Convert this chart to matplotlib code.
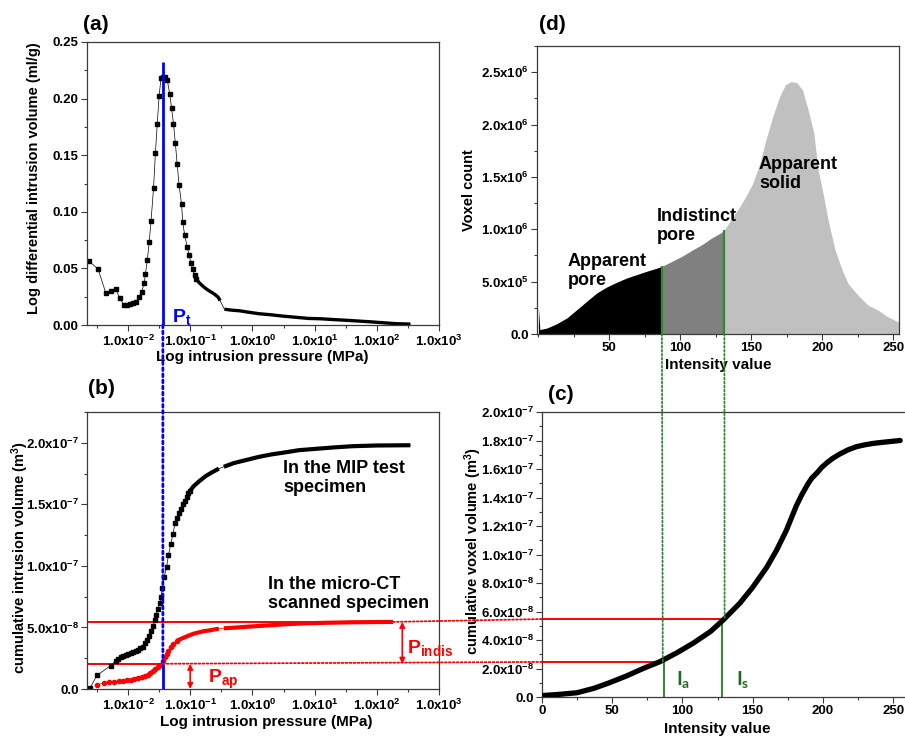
import numpy as np
import matplotlib
matplotlib.use('Agg')
import matplotlib.pyplot as plt
from matplotlib.patches import ConnectionPatch
from matplotlib.ticker import FixedLocator, FuncFormatter, MultipleLocator, NullFormatter

plt.rcParams['font.family'] = ['Liberation Sans', 'DejaVu Sans']
plt.rcParams['font.weight'] = 'bold'
plt.rcParams['axes.labelweight'] = 'bold'

# ---- (a) log differential intrusion (MIP) ----
diff_logp = [-2.63, -2.48, -2.36, -2.28, -2.20, -2.13, -2.07, -2.02, -1.97, -1.92, -1.87,
             -1.82, -1.78, -1.74, -1.72, -1.69, -1.66, -1.63, -1.59, -1.56, -1.53, -1.50,
             -1.47, -1.44, -1.40, -1.37, -1.33, -1.30, -1.27, -1.24, -1.21, -1.18, -1.14,
             -1.12, -1.09, -1.05, -1.02, -0.99, -0.96, -0.93, -0.90]
diff_vol = [0.0566, 0.0492, 0.0286, 0.0304, 0.0315, 0.0236, 0.0177, 0.0180, 0.0185, 0.0190,
            0.0206, 0.0250, 0.0295, 0.0369, 0.0451, 0.0575, 0.0731, 0.0923, 0.121, 0.152,
            0.178, 0.2025, 0.218, 0.2195, 0.219, 0.2167, 0.204, 0.1916, 0.178, 0.161, 0.142,
            0.124, 0.107, 0.0908, 0.0796, 0.0693, 0.0619, 0.0551, 0.0492, 0.0442, 0.0404]
diff_logp_tail = [-0.90, -0.85, -0.80, -0.75, -0.70, -0.65, -0.60, -0.55, -0.52, np.nan,
                  -0.45, -0.35, -0.20, -0.05, 0.10, 0.30, 0.50, 0.70, 0.90, 1.10, 1.30,
                  1.50, 1.70, 1.90, 2.10, 2.30, 2.54]
diff_vol_tail = [0.0404, 0.0370, 0.0345, 0.0322, 0.0303, 0.0287, 0.0268, 0.0245, 0.0215, np.nan,
                 0.0140, 0.0132, 0.0125, 0.0112, 0.0100, 0.0090, 0.0078, 0.0068, 0.0058,
                 0.0055, 0.0048, 0.0042, 0.0035, 0.0028, 0.0020, 0.0012, 0.0008]

# ---- (b) cumulative intrusion volume (units of 1e-8 m3) ----
mip_logp = [-2.61, -2.50, -2.28, -2.20, -2.16, -2.12, -2.08, -2.04, -2.00, -1.96, -1.92,
            -1.88, -1.84, -1.80, -1.76, -1.72, -1.69, -1.66, -1.63, -1.60, -1.57, -1.55,
            -1.52, -1.49, -1.47, -1.45, -1.42, -1.38, -1.35, -1.31, -1.28, -1.24, -1.21,
            -1.18, -1.15, -1.12, -1.09, -1.06, -1.03, -1.00]
mip_cum = [0.1, 1.1, 1.9, 2.3, 2.45, 2.6, 2.7, 2.8, 2.85, 2.95, 3.0, 3.1, 3.2, 3.3, 3.45,
           3.7, 4.0, 4.3, 4.7, 5.1, 5.6, 6.0, 6.5, 7.0, 7.5, 8.2, 9.1, 9.9, 10.9, 11.8,
           12.6, 13.5, 13.9, 14.3, 14.6, 15.0, 15.3, 15.6, 15.9, 16.1]
mip_logp_tail = [-1.00, -0.95, -0.85, -0.75, -0.65, -0.54, np.nan, -0.46, -0.30, -0.10, 0.10,
                 0.30, 0.50, 0.75, 1.00, 1.30, 1.60, 2.00, 2.54]
mip_cum_tail = [16.1, 16.45, 16.9, 17.3, 17.6, 17.9, np.nan, 18.05, 18.35, 18.6, 18.85,
                19.05, 19.2, 19.4, 19.5, 19.62, 19.72, 19.78, 19.8]

ct_logp = [-2.50, -2.38, -2.30, -2.22, -2.15, -2.08, -2.02, -1.96, -1.90, -1.84, -1.78,
           -1.72, -1.68, -1.64, -1.60, -1.56, -1.52, -1.48, -1.44, -1.41, -1.38, -1.35,
           -1.31, -1.27, -1.22]
ct_cum = [0.35, 0.49, 0.54, 0.59, 0.62, 0.67, 0.71, 0.76, 0.81, 0.87, 0.94, 1.05, 1.15,
          1.28, 1.45, 1.6, 1.8, 1.95, 2.3, 2.6, 2.85, 3.1, 3.4, 3.65, 3.9]
ct_logp_tail = [-1.22, -1.16, -1.09, -1.02, -0.94, -0.86, -0.78, -0.70, -0.62, -0.54, np.nan,
                -0.46, -0.30, -0.10, 0.20, 0.50, 0.80, 1.20, 1.60, 2.00, 2.26]
ct_cum_tail = [3.9, 4.05, 4.2, 4.35, 4.5, 4.6, 4.7, 4.75, 4.83, 4.9, np.nan, 4.93, 4.98,
               5.05, 5.15, 5.25, 5.33, 5.38, 5.42, 5.44, 5.45]

# thresholds
log_pt = -1.44          # P_t
p_ap_b = 2.05e-8        # apparent pore volume in (b)
p_all_b = 5.45e-8       # apparent + indistinct in (b)
p_ap_c = 2.46e-8
p_all_c = 5.47e-8
i_a, i_s = 87, 131      # intensity thresholds in (d)
i_a_c, i_s_c = 86.9, 128.4

# ---- (c) cumulative voxel volume (units of 1e-8 m3) ----
int_c = [0, 13, 25, 37, 48, 60, 72, 84, 96, 108, 120, 129, 141, 150, 160, 167, 174, 181,
         185, 189, 192, 196, 199, 203, 207, 212, 218, 224, 230, 236, 245, 255]
vox_cum = [0.1, 0.19, 0.3, 0.61, 1.0, 1.47, 2.0, 2.48, 3.1, 3.8, 4.6, 5.4, 6.6, 7.7, 9.1,
           10.3, 11.7, 13.4, 14.2, 14.9, 15.35, 15.75, 16.1, 16.45, 16.75, 17.05, 17.35,
           17.57, 17.7, 17.8, 17.9, 18.0]

# ---- (d) grey value histogram (units of 1e5 voxels) ----
int_d = [0, 1, 6, 13, 20, 27, 34, 41, 48, 55, 62, 69, 76, 83, 87, 94, 101, 108, 115, 122,
         129, 131, 137, 142, 146, 151, 156, 160, 165, 170, 174, 178, 182, 186, 190, 194,
         197, 201, 204, 209, 214, 218, 225, 232, 239, 246, 253, 254]
vox_count = [2.5, 0.42, 0.57, 0.99, 1.53, 2.32, 3.12, 3.91, 4.48, 4.93, 5.34, 5.66, 5.98,
             6.27, 6.46, 6.93, 7.41, 7.98, 8.52, 9.16, 9.7, 9.95, 11.2, 12.2, 13.1, 14.4,
             16.3, 18.4, 20.75, 22.7, 23.8, 24.1, 24.0, 23.3, 21.4, 19.2, 15.7, 13.1, 10.9,
             8.0, 6.1, 4.84, 3.72, 2.77, 2.29, 1.66, 1.18, 1.15]


def sci(v, pos):
    if abs(v) < 1e-30:
        return '0.0'
    e = int(np.floor(np.log10(abs(v)) + 1e-9))
    return r'$\mathregular{%.1fx10^{%d}}$' % (v / 10.0 ** e, e)


def logfmt(v, pos):
    return r'$\mathregular{1.0x10^{%d}}$' % round(np.log10(v))


def style(ax):
    for s in ax.spines.values():
        s.set_linewidth(0.9)
        s.set_color('#3a3a3a')
    ax.tick_params(which='both', direction='out', top=False, right=False, width=0.8,
                   color='#3a3a3a', labelsize=9.5, pad=2)
    ax.tick_params(which='major', length=4)
    ax.tick_params(which='minor', length=2.5)


def log_xaxis(ax):
    ax.set_xscale('log')
    ax.set_xlim(10 ** -2.66, 10 ** 3)
    ax.xaxis.set_major_locator(FixedLocator([10.0 ** k for k in range(-2, 4)]))
    ax.xaxis.set_major_formatter(FuncFormatter(logfmt))
    ax.xaxis.set_minor_locator(FixedLocator([10.0 ** (k + 0.5) for k in range(-3, 3)]))
    ax.xaxis.set_minor_formatter(NullFormatter())
    ax.set_xlabel('Log intrusion pressure (MPa)', fontsize=11)


W, H = 905.0, 740.0
fig = plt.figure(figsize=(9.05, 7.40), dpi=100)


def px_axes(l, t, r, b):
    return fig.add_axes([l / W, 1 - b / H, (r - l) / W, (b - t) / H])


ax_a = px_axes(87, 42, 439, 325)
ax_b = px_axes(87, 412, 439, 689)
ax_d = px_axes(537, 46, 899, 334)
ax_c = px_axes(542, 412, 910, 697)

xb = 10 ** log_pt

# (a)
ax_a.plot(10 ** np.array(diff_logp), diff_vol, color='black', lw=0.5, marker='s',
          ms=3, mec='black', mfc='black')
ta = 10 ** np.array(diff_logp_tail)
ax_a.plot(ta, diff_vol_tail, color='black', lw=2.4, solid_capstyle='butt')
keep = ~np.isnan(ta)
ax_a.plot(ta[keep], np.array(diff_vol_tail)[keep], color='black', lw=0.5)
ax_a.vlines(xb, 0, 0.232, color='blue', lw=2)
ax_a.text(10 ** -1.29, 0.0027, r'$\mathregular{P_t}$', color='blue', fontsize=14)
log_xaxis(ax_a)
ax_a.set_ylim(0, 0.25)
ax_a.yaxis.set_major_locator(MultipleLocator(0.05))
ax_a.yaxis.set_minor_locator(MultipleLocator(0.025))
ax_a.yaxis.set_major_formatter(FuncFormatter(lambda v, p: '%.2f' % v))
ax_a.set_ylabel('Log differential intrusion volume (ml/g)', fontsize=10.5)
style(ax_a)

# (b)
s = 1e-8
ax_b.plot(10 ** np.array(mip_logp), np.array(mip_cum) * s, color='black', lw=0.5,
          marker='s', ms=3, mec='black', mfc='black')
tb = 10 ** np.array(mip_logp_tail)
ax_b.plot(tb, np.array(mip_cum_tail) * s, color='black', lw=3, solid_capstyle='butt')
keep = ~np.isnan(tb)
ax_b.plot(tb[keep], np.array(mip_cum_tail)[keep] * s, color='black', lw=0.5)
ax_b.plot(10 ** np.array(ct_logp), np.array(ct_cum) * s, color='red', lw=0.5,
          marker='o', ms=3, mec='red', mfc='red')
tc = 10 ** np.array(ct_logp_tail)
ax_b.plot(tc, np.array(ct_cum_tail) * s, color='red', lw=3, solid_capstyle='butt')
keep = ~np.isnan(tc)
ax_b.plot(tc[keep], np.array(ct_cum_tail)[keep] * s, color='red', lw=0.5)

x_end = 10 ** ct_logp_tail[-1]
ax_b.hlines(p_all_b, 10 ** -2.66, x_end, color='red', lw=1.4, zorder=1)
ax_b.hlines(p_ap_b, 10 ** -2.66, xb, color='red', lw=1.4, zorder=1)
ax_b.vlines(xb, 0, p_ap_b, color='blue', lw=2, zorder=4)
ax_b.annotate('', xy=(0.1, 0), xytext=(0.1, p_ap_b), annotation_clip=False,
              arrowprops=dict(arrowstyle='<|-|>', color='red', lw=1.2,
                              mutation_scale=8, shrinkA=0, shrinkB=0))
ax_b.annotate('', xy=(10 ** 2.41, p_ap_b), xytext=(10 ** 2.41, p_all_b),
              arrowprops=dict(arrowstyle='<|-|>', color='red', lw=1.2,
                              mutation_scale=8, shrinkA=0, shrinkB=0))
ax_b.text(10 ** -0.71, 0.49e-8, r'$\mathregular{P_{ap}}$', color='red', fontsize=14)
ax_b.text(10 ** 2.49, 2.93e-8, r'$\mathregular{P_{indis}}$', color='red', fontsize=14)
ax_b.text(10 ** 0.49, 1.711e-7, 'In the MIP test\nspecimen', fontsize=13,
          va='center', ha='left', linespacing=1.15)
ax_b.text(10 ** 0.25, 7.72e-8, 'In the micro-CT\nscanned specimen', fontsize=13,
          va='center', ha='left', linespacing=1.15)
log_xaxis(ax_b)
ax_b.set_ylim(0, 2.25e-7)
ax_b.yaxis.set_major_locator(MultipleLocator(5e-8))
ax_b.yaxis.set_minor_locator(MultipleLocator(2.5e-8))
ax_b.yaxis.set_major_formatter(FuncFormatter(sci))
ax_b.set_ylabel(r'cumulative intrusion volume (m$\mathregular{^3}$)', fontsize=10.5)
style(ax_b)

# (d)
xd = np.array(int_d, dtype=float)
yd = np.array(vox_count) * 1e5
ax_d.fill_between(xd, 0, yd, where=xd <= i_a, color='black', lw=0)
ax_d.fill_between(xd, 0, yd, where=(xd >= i_a) & (xd <= i_s), color='#808080', lw=0)
ax_d.fill_between(xd, 0, yd, where=xd >= i_s, color='#c0c0c0', lw=0)
ax_d.vlines([i_a, i_s], 0, [yd[int_d.index(i_a)], yd[int_d.index(i_s)]],
            color='#2e8b2e', lw=1.6)
ax_d.text(20.8, 6.0e5, 'Apparent\npore', fontsize=13, va='center', linespacing=1.15)
ax_d.text(83.5, 1.03e6, 'Indistinct\npore', fontsize=13, va='center', linespacing=1.15)
ax_d.text(155.4, 1.53e6, 'Apparent\nsolid', fontsize=13, va='center', linespacing=1.15)
ax_d.set_xlim(-1, 254)
ax_d.set_ylim(0, 2.75e6)
ax_d.xaxis.set_major_locator(FixedLocator([50, 100, 150, 200, 250]))
ax_d.xaxis.set_minor_locator(MultipleLocator(25))
ax_d.yaxis.set_major_locator(MultipleLocator(5e5))
ax_d.yaxis.set_minor_locator(MultipleLocator(2.5e5))
ax_d.yaxis.set_major_formatter(FuncFormatter(sci))
ax_d.set_xlabel('Intensity value', fontsize=11)
ax_d.set_ylabel('Voxel count', fontsize=10.5)
style(ax_d)

# (c)
ax_c.plot(int_c, np.array(vox_cum) * s, color='black', lw=3.8, solid_capstyle='round',
          zorder=3)
ax_c.hlines([p_ap_c, p_all_c], 0, [84.5, 129.5], color='red', lw=1.4, zorder=2)
ax_c.vlines([i_a_c, i_s_c], 0, [p_ap_c, p_all_c], color='#2e8b2e', lw=1.4, zorder=2)
ax_c.text(95.4, 0.84e-8, r'$\mathregular{I_a}$', color='#1f6b1f', fontsize=14,
          family='Lato')
ax_c.text(138, 0.84e-8, r'$\mathregular{I_s}$', color='#1f6b1f', fontsize=14,
          family='Lato')
ax_c.set_xlim(0, 262)
ax_c.set_ylim(0, 2.0e-7)
ax_c.xaxis.set_major_locator(FixedLocator([0, 50, 100, 150, 200, 250]))
ax_c.xaxis.set_minor_locator(MultipleLocator(25))
ax_c.yaxis.set_major_locator(MultipleLocator(2e-8))
ax_c.yaxis.set_minor_locator(MultipleLocator(1e-8))
ax_c.yaxis.set_major_formatter(FuncFormatter(sci))
ax_c.set_xlabel('Intensity value', fontsize=11)
ax_c.set_ylabel(r'cumulative voxel volume (m$\mathregular{^3}$)', fontsize=10.5)
style(ax_c)

# label positions
ax_a.xaxis.set_label_coords(0.497, -0.090)
ax_b.xaxis.set_label_coords(0.51, -0.095)
ax_d.xaxis.set_label_coords(0.5, -0.085)
ax_c.xaxis.set_label_coords(0.476, -0.086)
ax_a.yaxis.set_label_coords(-0.131, 0.519)
ax_b.yaxis.set_label_coords(-0.159, 0.473)
ax_d.yaxis.set_label_coords(-0.169, 0.5)
ax_c.yaxis.set_label_coords(-0.158, 0.512)

# connectors between panels
def connect(pa, axa, pb, axb, color, lw):
    con = ConnectionPatch(xyA=pa, coordsA=axa.transData, xyB=pb, coordsB=axb.transData,
                          color=color, lw=lw, linestyle=(0, (1, 1.2)), zorder=5)
    fig.add_artist(con)

connect((xb, 0), ax_a, (xb, p_ap_b), ax_b, 'blue', 2)
connect((x_end, p_all_b), ax_b, (0, p_all_c), ax_c, 'red', 1.3)
connect((xb, p_ap_b), ax_b, (0, p_ap_c), ax_c, 'red', 1.3)
connect((i_a, 0), ax_d, (86.0, p_ap_c), ax_c, '#2e8b2e', 1.3)
connect((i_s, 0), ax_d, (130.0, p_all_c), ax_c, '#2e8b2e', 1.3)

# panel letters
for txt, x, y in [('(a)', 83, 24), ('(b)', 88, 389), ('(d)', 539, 24), ('(c)', 548, 394)]:
    fig.text(x / W, 1 - y / H, txt, fontsize=15, ha='left', va='center')

fig.savefig('out.png', dpi=100)
